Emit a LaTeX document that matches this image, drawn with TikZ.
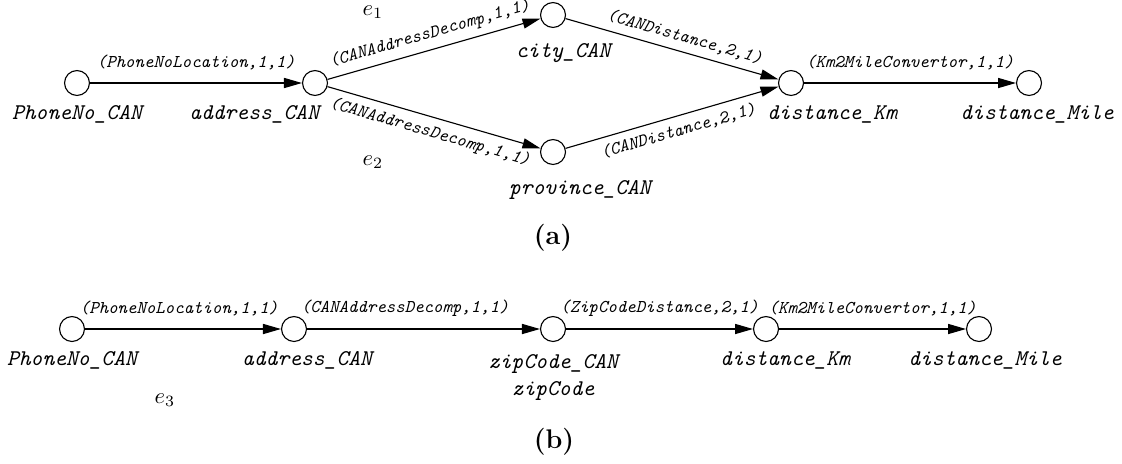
\documentclass[tikz,border=0pt]{standalone}
\usepackage{amsmath}
\usetikzlibrary{arrows.meta,positioning}

\begin{document}
\begin{tikzpicture}[x=0.445pt, y=-0.445pt, >={Triangle[length=8pt,width=4.5pt]},
                    place/.style={circle, draw, line width=0.5pt, minimum size=11.1pt, inner sep=0pt},
                    vname/.style={font=\ttfamily\itshape, inner sep=1pt},
                    flow/.style={->, line width=0.5pt},
                    svc/.style={font=\ttfamily\itshape\footnotesize, inner sep=5.5pt},
                    svcs/.style={font=\ttfamily\itshape\footnotesize, inner sep=3pt, sloped}]

  \useasboundingbox (0,0) rectangle (1122,463);

  %% (a): two paths through city and province
  \node[place] (phA) at (77,83) {};
  \node[place] (adA) at (315,83) {};
  \node[place] (ciA) at (553,15) {};
  \node[place] (prA) at (553,152) {};
  \node[place] (kmA) at (791,83) {};
  \node[place] (miA) at (1029,83) {};

  \node[vname, below=2.8pt of phA] (phAl) {PhoneNo\_CAN};
  \node[vname, anchor=north east] (adAl) at ([xshift=3pt, yshift=-2.8pt]adA.south) {address\_CAN};
  \node[vname, below=5.8pt of ciA, xshift=4.5pt] (ciAl) {city\_CAN};
  \node[vname, below=5.8pt of prA, xshift=12pt] (prAl) {province\_CAN};
  \node[vname, below=3.2pt of kmA, xshift=18.2pt] (kmAl) {distance\_Km};
  \node[vname, below=3.2pt of miA, xshift=3.6pt] (miAl) {distance\_Mile};

  \draw[flow] (phA) -- node[svc, above] (sA1) {(PhoneNoLocation,1,1)} (adA);
  \draw[flow] (adA) -- node[svcs, above] (sA2) {(CANAddressDecomp,1,1)} (ciA);
  \draw[flow] (adA) -- node[svcs, below] (sA3) {(CANAddressDecomp,1,1)} (prA);
  \draw[flow] (ciA) -- node[svcs, above, pos=0.54] (sA4) {(CANDistance,2,1)} (kmA);
  \draw[flow] (prA) -- node[svcs, below, pos=0.51] (sA5) {(CANDistance,2,1)} (kmA);
  \draw[flow] (kmA) -- node[svc, above] (sA6) {(Km2MileConvertor,1,1)} (miA);

  \node (e1) at (373,12) {$e_1$};
  \node (e2) at (373,162) {$e_2$};
  \node[font=\large\bfseries] (capA) at (553,238) {(a)};

  %% (b): one path through the zip code
  \node[place] (phB) at (72,329) {};
  \node[place] (adB) at (294,329) {};
  \node[place] (zcB) at (553,329) {};
  \node[place] (kmB) at (766,329) {};
  \node[place] (miB) at (979,329) {};

  \node[vname, below=2.8pt of phB] (phBl) {PhoneNo\_CAN};
  \node[vname, below=2.8pt of adB, xshift=5.8pt] (adBl) {address\_CAN};
  \node[vname, below=4.5pt of zcB, align=center] (zcBl) {zipCode\_CAN\\zipCode};
  \node[vname, below=3pt of kmB, xshift=8.5pt] (kmBl) {distance\_Km};
  \node[vname, below=3pt of miB, xshift=2.7pt] (miBl) {distance\_Mile};

  \draw[flow] (phB) -- node[svc, above, pos=0.48] (sB1) {(PhoneNoLocation,1,1)} (adB);
  \draw[flow] (adB) -- node[svc, above, pos=0.42] (sB2) {(CANAddressDecomp,1,1)} (zcB);
  \draw[flow] (zcB) -- node[svc, above] (sB3) {(ZipCodeDistance,2,1)} (kmB);
  \draw[flow] (kmB) -- node[svc, above] (sB4) {(Km2MileConvertor,1,1)} (miB);

  \node (e3) at (165,400) {$e_3$};
  \node[font=\large\bfseries] (capB) at (554,442) {(b)};

\end{tikzpicture}
\end{document}
